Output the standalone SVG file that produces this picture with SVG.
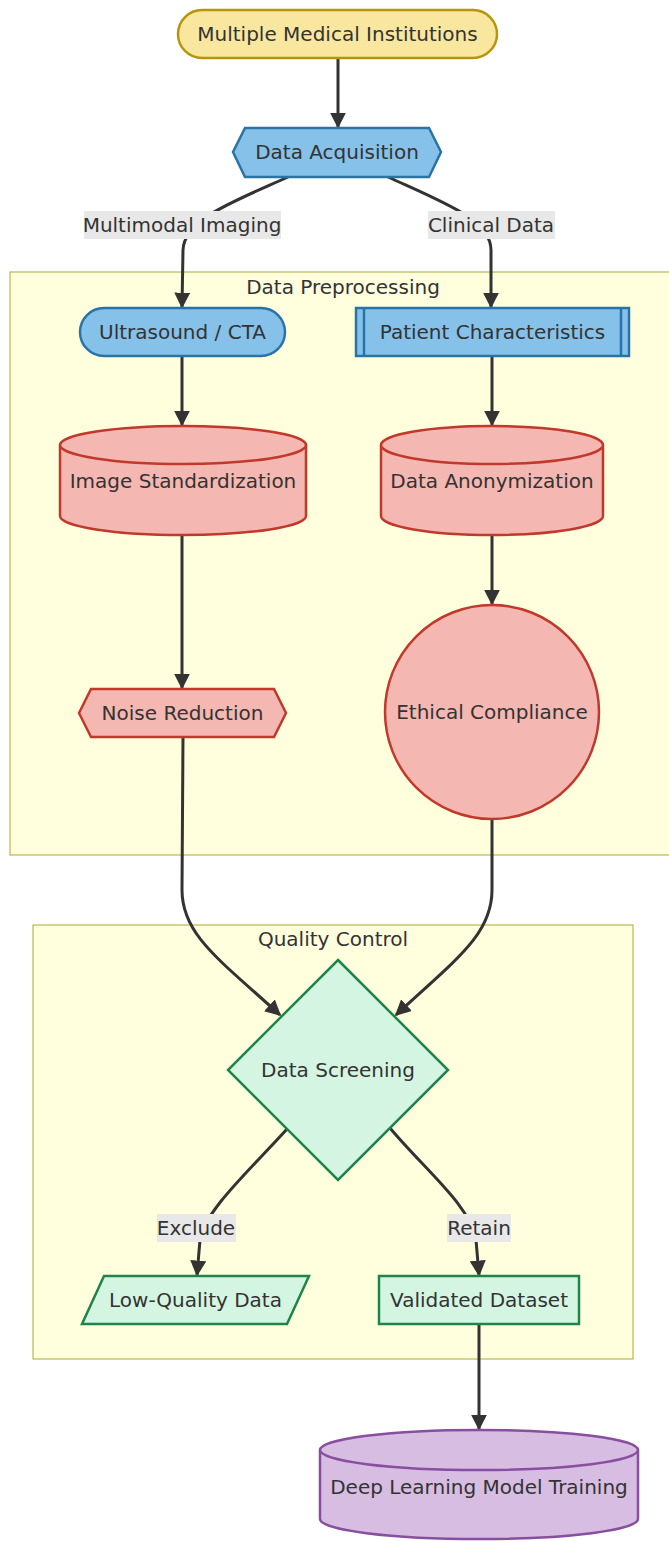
<svg xmlns="http://www.w3.org/2000/svg" width="669" height="1541" viewBox="0 0 669 1541">
<defs>
<marker id="arr" markerUnits="userSpaceOnUse" markerWidth="16" markerHeight="16" viewBox="0 0 10 10" refX="9" refY="5" orient="auto">
<path d="M0,0 L10,5 L0,10 z" fill="#333"/>
</marker>
<style>
text{font-family:"DejaVu Sans","Liberation Sans",sans-serif;font-size:20px;fill:#333;text-anchor:middle;dominant-baseline:central}
.cl{fill:#ffffde;stroke:#aaaa33;stroke-width:1}
.e{fill:none;stroke:#333;stroke-width:3;marker-end:url(#arr)}
.lb{fill:#e8e8e8}
.y{fill:#f9e79f;stroke:#b7950b;stroke-width:2.5}
.b{fill:#85c1e9;stroke:#2874a6;stroke-width:2.5}
.r{fill:#f5b7b1;stroke:#c0392b;stroke-width:2.5}
.g{fill:#d5f5e3;stroke:#1e8449;stroke-width:2.5}
.p{fill:#d7bde2;stroke:#884ea0;stroke-width:2.5}
</style>
</defs>
<rect width="669" height="1541" fill="#ffffff"/>
<g id="cluster-preprocessing">
<rect class="cl" x="10" y="272" width="670" height="583"/>
<text x="343" y="287">Data Preprocessing</text>
</g>
<g id="cluster-quality">
<rect class="cl" x="33" y="925" width="600" height="434"/>
<text x="333" y="939">Quality Control</text>
</g>
<g id="connectors">
<path class="e" d="M338,58 L338,127"/>
<path class="e" d="M288,177 C230,203 184,220 183,250 L182,307"/>
<path class="e" d="M388,177 C445,203 491,220 491,250 L491,307"/>
<path class="e" d="M182,356 L182,425"/>
<path class="e" d="M492,356 L492,425"/>
<path class="e" d="M182,535 L182,688"/>
<path class="e" d="M492,535 L492,604"/>
<path class="e" d="M183,737 L182,890 C182,935 220,960 280,1015"/>
<path class="e" d="M492,820 L492,890 C492,935 455,960 396,1015"/>
<path class="e" d="M287,1129 C250,1170 205,1210 200,1240 L197,1275"/>
<path class="e" d="M390,1128 C425,1170 470,1205 476,1240 L479,1275"/>
<path class="e" d="M479,1324 L479,1429"/>
<rect class="lb" x="84" y="211" width="197" height="28"/>
<text x="182" y="225">Multimodal Imaging</text>
<rect class="lb" x="428" y="211" width="127" height="28"/>
<text x="491" y="225">Clinical Data</text>
<rect class="lb" x="157" y="1214" width="79" height="28"/>
<text x="196" y="1228">Exclude</text>
<rect class="lb" x="447" y="1214" width="64" height="28"/>
<text x="479" y="1228">Retain</text>
</g>
<g id="n-institutions">
<rect class="y" x="178" y="10" width="319" height="48" rx="24"/>
<text x="337.5" y="34">Multiple Medical Institutions</text>
</g>
<g id="n-acquisition">
<polygon class="b" points="233,152 245,128 429,128 441,152 429,177 245,177"/>
<text x="337" y="152">Data Acquisition</text>
</g>
<g id="n-ultrasound">
<rect class="b" x="80" y="308" width="205" height="48" rx="24"/>
<text x="182.5" y="332">Ultrasound / CTA</text>
</g>
<g id="n-patient">
<rect class="b" x="356" y="308" width="273" height="48"/>
<line class="b" x1="364" y1="308" x2="364" y2="356"/>
<line class="b" x1="621" y1="308" x2="621" y2="356"/>
<text x="492.5" y="332">Patient Characteristics</text>
</g>
<g id="n-standardization">
<path class="r" d="M60,445 A123,19 0 0 1 306,445 L306,516 A123,19 0 0 1 60,516 Z"/>
<path class="r" fill="none" d="M60,445 A123,19 0 0 0 306,445"/>
<text x="183" y="481">Image Standardization</text>
</g>
<g id="n-anonymization">
<path class="r" d="M381,445 A111,19 0 0 1 603,445 L603,516 A111,19 0 0 1 381,516 Z"/>
<path class="r" fill="none" d="M381,445 A111,19 0 0 0 603,445"/>
<text x="492" y="481">Data Anonymization</text>
</g>
<g id="n-noise">
<polygon class="r" points="79,713 91,689 274,689 286,713 274,737 91,737"/>
<text x="182.5" y="713">Noise Reduction</text>
</g>
<g id="n-ethical">
<circle class="r" cx="492" cy="712" r="107"/>
<text x="492" y="712">Ethical Compliance</text>
</g>
<g id="n-screening">
<polygon class="g" points="338,960 448,1070 338,1180 228,1070"/>
<text x="338" y="1070">Data Screening</text>
</g>
<g id="n-lowquality">
<polygon class="g" points="104,1276 309,1276 287,1324 82,1324"/>
<text x="195.5" y="1300">Low-Quality Data</text>
</g>
<g id="n-validated">
<rect class="g" x="379" y="1276" width="200" height="48"/>
<text x="479" y="1300">Validated Dataset</text>
</g>
<g id="n-training">
<path class="p" d="M320,1450 A159,20 0 0 1 638,1450 L638,1519 A159,20 0 0 1 320,1519 Z"/>
<path class="p" fill="none" d="M320,1450 A159,20 0 0 0 638,1450"/>
<text x="479" y="1487">Deep Learning Model Training</text>
</g>
</svg>
